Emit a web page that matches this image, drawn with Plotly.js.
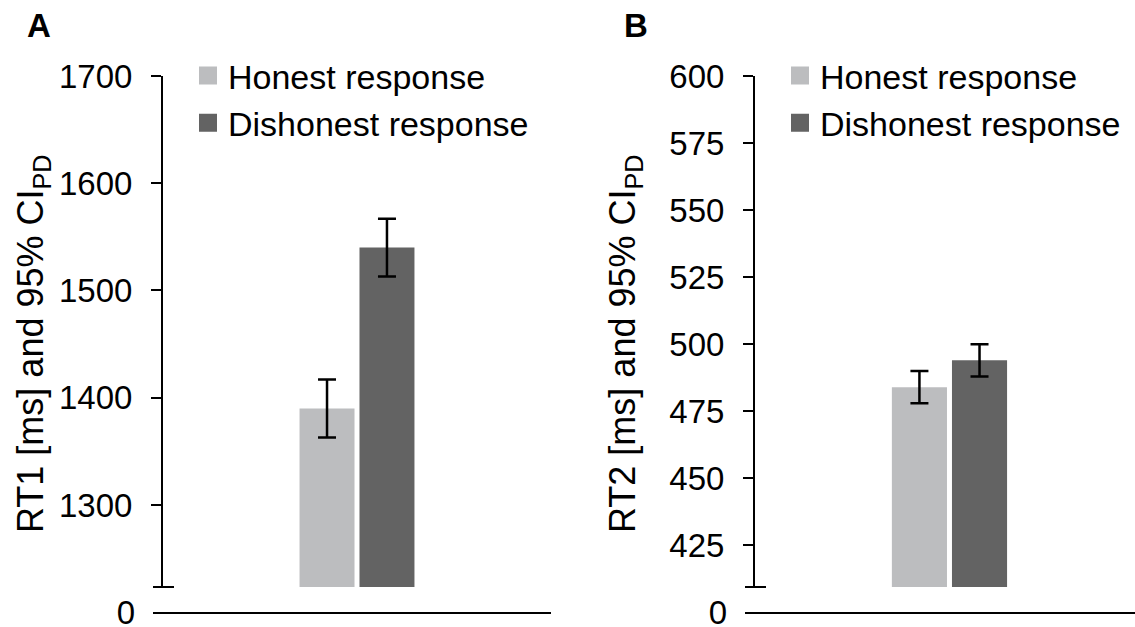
<!DOCTYPE html>
<html>
<head>
<meta charset="utf-8">
<script src="https://cdn.plot.ly/plotly-3.0.1.min.js"></script>
<style>
  html, body { margin: 0; padding: 0; background: #fff; }
  #chart { width: 1135px; height: 627px; }
</style>
</head>
<body>
<div id="chart"></div>
<script>
// ---- data ----
const categories = ['RT'];
const seriesNames = ['Honest response', 'Dishonest response'];
const rt1Honest = [1390];
const rt1Dishonest = [1540];
const rt1HonestCI = [27];
const rt1DishonestCI = [27];
const rt2Honest = [484];
const rt2Dishonest = [494];
const rt2HonestCI = [6];
const rt2DishonestCI = [6];
const rt1Ticks = [1300, 1400, 1500, 1600, 1700];
const rt2Ticks = [425, 450, 475, 500, 525, 550, 575, 600];
const breakLabel = ['0'];
const panelLabels = ['A', 'B'];
const yTitles = ['RT1 [ms] and 95% CI<sub>PD</sub>', 'RT2 [ms] and 95% CI<sub>PD</sub>'];

// ---- style ----
const colors = ['#bcbdbf', '#636363'];
const FONT = 'Arial, "Liberation Sans", sans-serif';
const W = 1135, H = 627;
const px = v => v / W;          // x pixel -> paper
const py = v => 1 - v / H;      // y pixel -> paper

function bar(y, ci, name, idx, xa, ya) {
  return {
    type: 'bar', x: categories, y: y, name: name, xaxis: xa, yaxis: ya,
    marker: { color: colors[idx] }, showlegend: false, hoverinfo: 'skip',
    error_y: { type: 'data', array: ci, visible: true, color: '#000', thickness: 2.5, width: 9 }
  };
}
function legendEntry(name, idx, xa, ya, leg) {
  return {
    type: 'scatter', mode: 'markers', x: [null], y: [null], name: name,
    xaxis: xa, yaxis: ya, legend: leg, legendgroup: leg + idx,
    marker: { symbol: 'square', size: 16, color: colors[idx], line: { width: 2, color: colors[idx] } }
  };
}
// empty helper trace so the axis-break strip (bottom subplot) exists
function breakStrip(xa, ya) {
  return { type: 'scatter', mode: 'markers', x: [null], y: [null], xaxis: xa, yaxis: ya, showlegend: false, hoverinfo: 'skip' };
}

const data = [
  bar(rt1Honest, rt1HonestCI, seriesNames[0], 0, 'x', 'y'),
  bar(rt1Dishonest, rt1DishonestCI, seriesNames[1], 1, 'x', 'y'),
  bar(rt2Honest, rt2HonestCI, seriesNames[0], 0, 'x2', 'y2'),
  bar(rt2Dishonest, rt2DishonestCI, seriesNames[1], 1, 'x2', 'y2'),
  breakStrip('x', 'y3'),
  breakStrip('x2', 'y4'),
  legendEntry(seriesNames[0], 0, 'x', 'y', 'legend'),
  legendEntry(seriesNames[1], 1, 'x', 'y', 'legend'),
  legendEntry(seriesNames[0], 0, 'x2', 'y2', 'legend2'),
  legendEntry(seriesNames[1], 1, 'x2', 'y2', 'legend2')
];

const mainDomain = [py(587), py(76)];
const breakDomain = [py(612), py(587)];

const yMain = (range, ticks, anchor) => ({
  anchor: anchor, domain: mainDomain, range: range, tickvals: ticks,
  showline: true, linecolor: '#000', linewidth: 2,
  ticks: 'outside', ticklen: 10, tickwidth: 2, tickcolor: '#000',
  ticklabelstandoff: 12, showgrid: false, zeroline: false,
  tickfont: { family: FONT, size: 33, color: '#000' }
});
const yBreak = (anchor) => ({
  anchor: anchor, domain: breakDomain, range: [0, 1], tickvals: [0], ticktext: breakLabel,
  showline: false, ticks: '',
  ticklabelstandoff: 27, ticklabeloverflow: 'allow', showgrid: false, zeroline: false,
  tickfont: { family: FONT, size: 33, color: '#000' }
});
const xAxis = (domain, range, anchor) => ({
  anchor: anchor, domain: domain, range: range, type: 'category',
  showline: true, linecolor: '#000', linewidth: 2, ticks: '', showticklabels: false,
  showgrid: false, zeroline: false
});

const legendStyle = (x) => ({
  x: x, y: py(47), xanchor: 'left', yanchor: 'top',
  font: { family: FONT, size: 34, color: '#000' },
  bgcolor: 'rgba(0,0,0,0)', borderwidth: 0, traceorder: 'grouped', tracegroupgap: 0
});

const tickLine = { color: '#000', width: 2 };

const layout = {
  width: W, height: H,
  margin: { l: 0, r: 0, t: 0, b: 0 },
  paper_bgcolor: '#fff', plot_bgcolor: 'rgba(0,0,0,0)',
  barmode: 'group', bargap: 0.691, bargroupgap: 0.083,
  xaxis: xAxis([px(163), px(551)], [-0.5, 0.5], 'y3'),
  xaxis2: xAxis([px(755), 1], [-0.5, 0.477], 'y4'),
  yaxis: yMain([1223.5, 1700], rt1Ticks, 'x'),
  yaxis2: yMain([409.5, 600], rt2Ticks, 'x2'),
  yaxis3: yBreak('x'),
  yaxis4: yBreak('x2'),
  legend: legendStyle(px(188)),
  legend2: legendStyle(px(780)),
  shapes: [
    // axis-break ticks at the bottom of each value axis
    { type: 'line', xref: 'paper', yref: 'y domain', x0: px(153), x1: px(174), y0: 0, y1: 0, line: tickLine },
    { type: 'line', xref: 'paper', yref: 'y2 domain', x0: px(745), x1: px(766), y0: 0, y1: 0, line: tickLine },
    // "0" ticks joining the category axis lines
    { type: 'line', xref: 'paper', yref: 'paper', x0: px(153), x1: px(165), y0: py(613), y1: py(613), line: tickLine },
    { type: 'line', xref: 'paper', yref: 'paper', x0: px(745), x1: px(757), y0: py(613), y1: py(613), line: tickLine }
  ],
  annotations: [
    { text: '<b>' + panelLabels[0] + '</b>', xref: 'paper', yref: 'paper', x: px(39), y: py(26), showarrow: false, xanchor: 'center', yanchor: 'middle', font: { family: FONT, size: 33, color: '#000' } },
    { text: '<b>' + panelLabels[1] + '</b>', xref: 'paper', yref: 'paper', x: px(636), y: py(26), showarrow: false, xanchor: 'center', yanchor: 'middle', font: { family: FONT, size: 33, color: '#000' } },
    { text: yTitles[0], xref: 'paper', yref: 'paper', x: px(33), y: py(344), textangle: -90, showarrow: false, xanchor: 'center', yanchor: 'middle', font: { family: FONT, size: 36, color: '#000' } },
    { text: yTitles[1], xref: 'paper', yref: 'paper', x: px(625), y: py(344), textangle: -90, showarrow: false, xanchor: 'center', yanchor: 'middle', font: { family: FONT, size: 36, color: '#000' } }
  ]
};

Plotly.newPlot('chart', data, layout, { staticPlot: true, displayModeBar: false });
</script>
</body>
</html>
